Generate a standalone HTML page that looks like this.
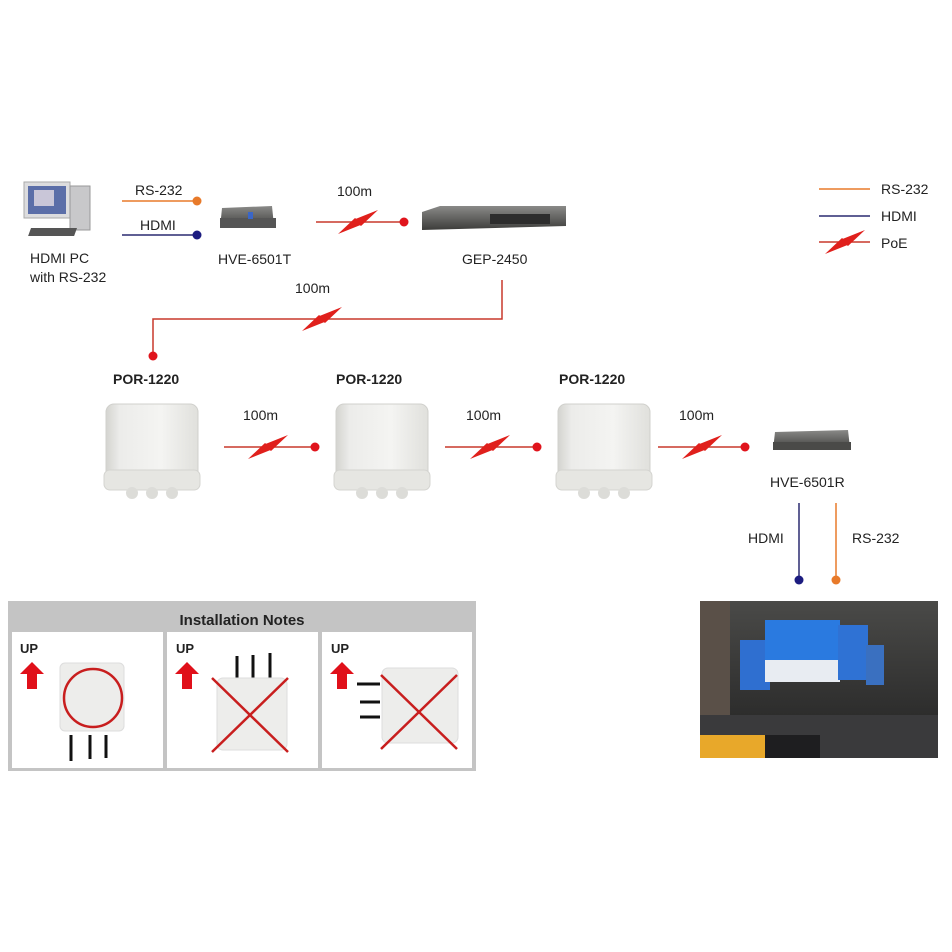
<!DOCTYPE html>
<html><head><meta charset="utf-8"><style>
html,body{margin:0;padding:0;background:#fff;}
svg{display:block;font-family:"Liberation Sans","DejaVu Sans",sans-serif;}
</style></head><body>
<svg width="952" height="952" viewBox="0 0 952 952" xmlns="http://www.w3.org/2000/svg">
<defs>
<linearGradient id="por" x1="0" y1="0" x2="1" y2="0">
<stop offset="0" stop-color="#d4d4d0"/><stop offset="0.15" stop-color="#ececea"/><stop offset="0.6" stop-color="#f4f4f2"/><stop offset="1" stop-color="#e0e0dc"/></linearGradient>
<linearGradient id="dev" x1="0" y1="0" x2="0" y2="1"><stop offset="0" stop-color="#8a8a88"/><stop offset="1" stop-color="#3c3c3a"/></linearGradient>
<linearGradient id="sky" x1="0" y1="0" x2="0" y2="1"><stop offset="0" stop-color="#4a4a48"/><stop offset="1" stop-color="#222"/></linearGradient>
<g id="bolt" fill="#e0201c">
<polygon points="20,-12 -5,-2 3,4"/>
<polygon points="-20,12 5,2 -3,-4"/>
</g>
<g id="por1">
<rect x="2" y="4" width="92" height="80" rx="8" fill="url(#por)" stroke="#d0d0cc"/>
<rect x="0" y="70" width="96" height="20" rx="6" fill="#e6e6e2" stroke="#d4d4d0"/>
<circle cx="28" cy="93" r="6" fill="#dcdcd8"/><circle cx="48" cy="93" r="6" fill="#dcdcd8"/><circle cx="68" cy="93" r="6" fill="#dcdcd8"/>
</g>
</defs>

<!-- PC -->
<rect x="24" y="182" width="46" height="36" fill="#dcdcde" stroke="#aaa"/>
<rect x="28" y="186" width="38" height="28" fill="#5b6ea8"/>
<rect x="34" y="190" width="20" height="16" fill="#c9c6d8"/>
<rect x="70" y="186" width="20" height="44" fill="#c8c8ca" stroke="#999"/>
<rect x="32" y="228" width="46" height="8" fill="#555" transform="skewX(-20) translate(82,0)"/>
<text x="30" y="263" font-size="14" fill="#222">HDMI PC</text>
<text x="30" y="282" font-size="14" fill="#222">with RS-232</text>

<line x1="122" y1="201" x2="197" y2="201" stroke="#e87a2a" stroke-width="1.5"/>
<circle cx="197" cy="201" r="4.5" fill="#e87a2a"/>
<text x="135" y="195" font-size="14" fill="#222">RS-232</text>
<line x1="122" y1="235" x2="197" y2="235" stroke="#2a2a70" stroke-width="1.5"/>
<circle cx="197" cy="235" r="4.5" fill="#1c1c80"/>
<text x="140" y="230" font-size="14" fill="#222">HDMI</text>

<!-- HVE-6501T -->
<polygon points="222,208 272,206 274,226 220,228" fill="url(#dev)"/>
<rect x="220" y="218" width="56" height="10" fill="#555"/>
<rect x="248" y="212" width="5" height="7" fill="#3a66c8"/>
<text x="218" y="264" font-size="14" fill="#222">HVE-6501T</text>

<line x1="316" y1="222" x2="404" y2="222" stroke="#c8382c" stroke-width="1.5"/>
<use href="#bolt" x="358" y="222"/>
<circle cx="404" cy="222" r="4.5" fill="#e0141c"/>
<text x="337" y="196" font-size="14" fill="#222">100m</text>

<!-- GEP-2450 -->
<polygon points="422,212 440,206 566,206 566,226 422,230" fill="url(#dev)"/>
<rect x="490" y="214" width="60" height="10" fill="#2c2c2c"/>
<text x="462" y="264" font-size="14" fill="#222">GEP-2450</text>

<polyline points="502,280 502,319 153,319 153,356" fill="none" stroke="#c8382c" stroke-width="1.5"/>
<use href="#bolt" x="322" y="319"/>
<circle cx="153" cy="356" r="4.5" fill="#e0141c"/>
<text x="295" y="293" font-size="14" fill="#222">100m</text>

<!-- Legend -->
<line x1="819" y1="189" x2="870" y2="189" stroke="#e87a2a" stroke-width="1.5"/>
<text x="881" y="194" font-size="14" fill="#222">RS-232</text>
<line x1="819" y1="216" x2="870" y2="216" stroke="#2a2a70" stroke-width="1.5"/>
<text x="881" y="221" font-size="14" fill="#222">HDMI</text>
<line x1="819" y1="242" x2="870" y2="242" stroke="#c8382c" stroke-width="1.5"/>
<use href="#bolt" x="845" y="242"/>
<text x="881" y="248" font-size="14" fill="#222">PoE</text>

<!-- POR units -->
<text x="113" y="384" font-size="14" font-weight="bold" fill="#222">POR-1220</text>
<text x="336" y="384" font-size="14" font-weight="bold" fill="#222">POR-1220</text>
<text x="559" y="384" font-size="14" font-weight="bold" fill="#222">POR-1220</text>
<use href="#por1" x="104" y="400"/>
<use href="#por1" x="334" y="400"/>
<use href="#por1" x="556" y="400"/>

<line x1="224" y1="447" x2="315" y2="447" stroke="#c8382c" stroke-width="1.5"/>
<use href="#bolt" x="268" y="447"/><circle cx="315" cy="447" r="4.5" fill="#e0141c"/>
<text x="243" y="420" font-size="14" fill="#222">100m</text>
<line x1="445" y1="447" x2="537" y2="447" stroke="#c8382c" stroke-width="1.5"/>
<use href="#bolt" x="490" y="447"/><circle cx="537" cy="447" r="4.5" fill="#e0141c"/>
<text x="466" y="420" font-size="14" fill="#222">100m</text>
<line x1="658" y1="447" x2="745" y2="447" stroke="#c8382c" stroke-width="1.5"/>
<use href="#bolt" x="702" y="447"/><circle cx="745" cy="447" r="4.5" fill="#e0141c"/>
<text x="679" y="420" font-size="14" fill="#222">100m</text>

<!-- HVE-6501R -->
<polygon points="775,432 848,430 850,448 773,450" fill="url(#dev)"/>
<rect x="773" y="442" width="78" height="8" fill="#4a4a48"/>
<text x="770" y="487" font-size="14" fill="#222">HVE-6501R</text>
<line x1="799" y1="503" x2="799" y2="580" stroke="#2a2a70" stroke-width="1.5"/>
<circle cx="799" cy="580" r="4.5" fill="#1c1c80"/>
<text x="748" y="543" font-size="14" fill="#222">HDMI</text>
<line x1="836" y1="503" x2="836" y2="580" stroke="#e87a2a" stroke-width="1.5"/>
<circle cx="836" cy="580" r="4.5" fill="#e87a2a"/>
<text x="852" y="543" font-size="14" fill="#222">RS-232</text>

<!-- Photo -->
<rect x="700" y="601" width="238" height="157" fill="url(#sky)"/>
<rect x="700" y="601" width="30" height="157" fill="#5a5048"/>
<rect x="740" y="640" width="30" height="50" fill="#2f6fd0"/>
<rect x="765" y="620" width="75" height="62" fill="#2a7ae0"/>
<rect x="765" y="660" width="75" height="22" fill="#e8ecf2"/>
<rect x="838" y="625" width="30" height="55" fill="#2f72d4"/>
<rect x="866" y="645" width="18" height="40" fill="#3a70c0"/>
<rect x="700" y="715" width="238" height="43" fill="#3a3a3c"/>
<rect x="700" y="735" width="65" height="23" fill="#e8a82a"/>
<rect x="765" y="735" width="55" height="23" fill="#1e1e20"/>

<!-- Installation Notes -->
<rect x="8" y="601" width="468" height="170" fill="#c4c4c4"/>
<text x="242" y="625" font-size="15" font-weight="bold" fill="#222" text-anchor="middle">Installation Notes</text>
<rect x="12" y="632" width="151" height="136" fill="#fff"/>
<rect x="167" y="632" width="151" height="136" fill="#fff"/>
<rect x="322" y="632" width="150" height="136" fill="#fff"/>

<g font-size="13" font-weight="bold" fill="#222">
<text x="20" y="653">UP</text><text x="176" y="653">UP</text><text x="331" y="653">UP</text></g>
<g fill="#e0101a">
<polygon points="32,662 44,674 37,674 37,689 27,689 27,674 20,674"/>
<polygon points="187,662 199,674 192,674 192,689 182,689 182,674 175,674"/>
<polygon points="342,662 354,674 347,674 347,689 337,689 337,674 330,674"/>
</g>
<rect x="60" y="663" width="64" height="68" rx="5" fill="#ededeb" stroke="#ddd"/>
<g stroke="#111" stroke-width="3"><line x1="71" y1="735" x2="71" y2="761"/><line x1="90" y1="735" x2="90" y2="759"/><line x1="106" y1="735" x2="106" y2="758"/></g>
<circle cx="93" cy="698" r="29" fill="none" stroke="#c81e1e" stroke-width="2.5"/>
<g stroke="#111" stroke-width="3"><line x1="237" y1="656" x2="237" y2="680"/><line x1="253" y1="655" x2="253" y2="680"/><line x1="270" y1="653" x2="270" y2="678"/></g>
<rect x="217" y="678" width="70" height="72" rx="6" fill="#ededeb" stroke="#ddd"/>
<g stroke="#c81e1e" stroke-width="2.5"><line x1="212" y1="678" x2="288" y2="752"/><line x1="288" y1="678" x2="212" y2="752"/></g>
<g stroke="#111" stroke-width="3"><line x1="357" y1="684" x2="380" y2="684"/><line x1="360" y1="702" x2="380" y2="702"/><line x1="360" y1="717" x2="380" y2="717"/></g>
<rect x="382" y="668" width="76" height="75" rx="6" fill="#ededeb" stroke="#ddd"/>
<g stroke="#c81e1e" stroke-width="2.5"><line x1="381" y1="675" x2="457" y2="749"/><line x1="457" y1="675" x2="381" y2="749"/></g>
</svg>
</body></html>
